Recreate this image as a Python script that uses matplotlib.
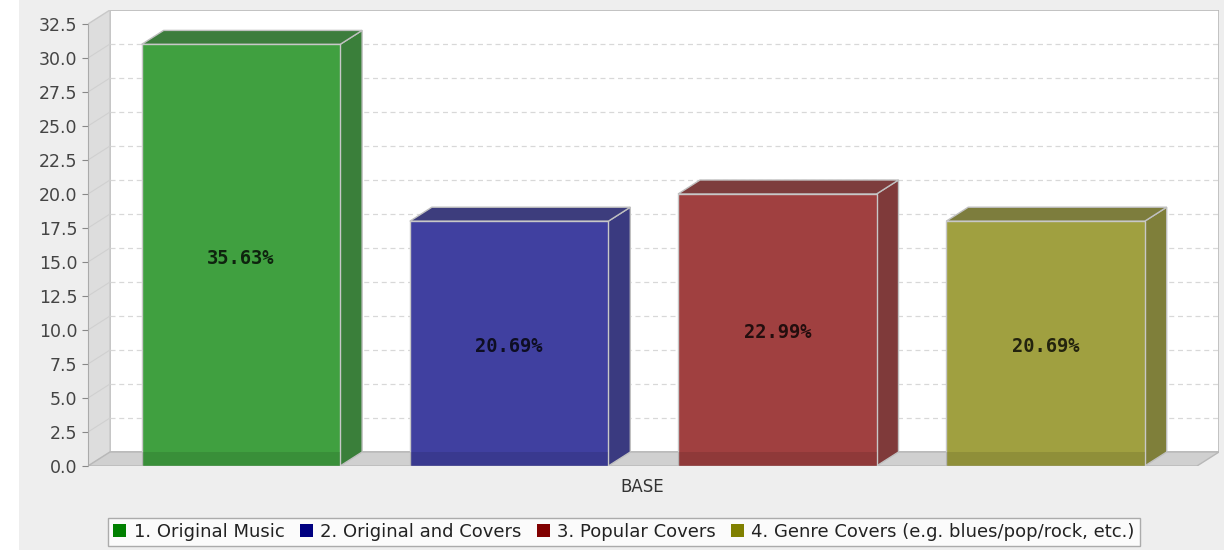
import matplotlib
matplotlib.use("Agg")
import matplotlib.pyplot as plt
from matplotlib.patches import Rectangle, Polygon

# dados
categorias = ["1. Original Music", "2. Original and Covers", "3. Popular Covers",
              "4. Genre Covers (e.g. blues/pop/rock, etc.)"]
contagens = [31, 18, 20, 18]
percentuais = ["35.63%", "20.69%", "22.99%", "20.69%"]
cores_base = ["#008000", "#000080", "#800000", "#808000"]
cores_frente = ["#40A040", "#4040A0", "#A04040", "#A0A040"]
cores_lado = ["#3A7F3A", "#3A3A80", "#7F3A3A", "#7F7F3A"]
cores_topo = ["#3D7D3D", "#3D3D7D", "#7D3D3D", "#7D7D3D"]
ticks_y = [0.0, 2.5, 5.0, 7.5, 10.0, 12.5, 15.0, 17.5, 20.0, 22.5, 25.0, 27.5, 30.0, 32.5]
rotulo_x = "BASE"

W, H = 1224, 550
PX_UNIDADE = 13.6          # pixels por unidade no eixo y
PX_CAT = 268.2             # pixels por categoria
X0_PX, Y0_PX = 88, 466     # origem do eixo (pixels)
TOPO_PX, DIR_PX = 10, 1219

DX = 22 / PX_CAT           # profundidade 3D
DY = 14 / PX_UNIDADE
XMIN = -0.57
XMAX_FRENTE = XMIN + (1197 - X0_PX) / PX_CAT
YMAX = 32.5
LARG = 0.74

fig = plt.figure(figsize=(W / 100, H / 100), dpi=100, facecolor="white")
fig.patches.append(Rectangle((19 / W, 0), 1 - 19 / W, 1, transform=fig.transFigure,
                             facecolor="#EEEEEE", edgecolor="none", zorder=-10))

ax = fig.add_axes([X0_PX / W, (H - Y0_PX) / H, (DIR_PX - X0_PX) / W, (Y0_PX - TOPO_PX) / H])
ax.set_xlim(XMIN, XMIN + (DIR_PX - X0_PX) / PX_CAT)
ax.set_ylim(0, (Y0_PX - TOPO_PX) / PX_UNIDADE)
ax.patch.set_alpha(0)

# parede do fundo
ax.add_patch(Rectangle((XMIN + DX, DY), XMAX_FRENTE - XMIN, YMAX, facecolor="white",
                       edgecolor="#B8B8B8", linewidth=1.2, zorder=0))
# parede esquerda
ax.add_patch(Polygon([(XMIN, 0), (XMIN + DX, DY), (XMIN + DX, YMAX + DY), (XMIN, YMAX)],
                     closed=True, facecolor="#DDDDDD", edgecolor="#C8C8C8", linewidth=1, zorder=0))
# chao
ax.add_patch(Polygon([(XMIN, 0), (XMAX_FRENTE, 0), (XMAX_FRENTE + DX, DY), (XMIN + DX, DY)],
                     closed=True, facecolor="#D0D0D0", edgecolor="#B8B8B8", linewidth=1, zorder=0))

# grade tracejada na parede do fundo
for t in ticks_y[1:-1]:
    ax.plot([XMIN + DX, XMAX_FRENTE + DX], [t + DY, t + DY], color="#D8D8D8",
            linestyle=(0, (4, 3)), linewidth=0.9, zorder=1)
    ax.plot([XMIN, XMIN + DX], [t, t + DY], color="#D0D0D0", linewidth=0.8, zorder=1)

# barras 3D
for i, v in enumerate(contagens):
    x0 = i - LARG / 2
    x1 = i + LARG / 2
    ax.add_patch(Polygon([(x1, 0), (x1 + DX, DY), (x1 + DX, v + DY), (x1, v)], closed=True,
                         facecolor=cores_lado[i], edgecolor="#C0C0C0", linewidth=1, zorder=3))
    ax.add_patch(Polygon([(x0, v), (x1, v), (x1 + DX, v + DY), (x0 + DX, v + DY)], closed=True,
                         facecolor=cores_topo[i], edgecolor="#C0C0C0", linewidth=1, zorder=3))
    ax.add_patch(Rectangle((x0, 0), LARG, v, facecolor=cores_frente[i],
                           edgecolor="#C8C8C8", linewidth=1, zorder=4))
    # faixa mais escura onde a barra cobre o chao
    ax.add_patch(Rectangle((x0, 0), LARG, DY, facecolor="black", alpha=0.1,
                           edgecolor="none", zorder=4))
    ax.annotate(percentuais[i], (i, v / 2), xytext=(0, -3), textcoords="offset pixels",
                ha="center", va="center", fontsize=13.5, family="DejaVu Sans Mono",
                fontweight="bold", color="black", alpha=0.78, zorder=5)

for s in ["top", "right", "bottom"]:
    ax.spines[s].set_visible(False)
ax.spines["left"].set_bounds(0, YMAX)
ax.spines["left"].set_color("#AAAAAA")
ax.set_yticks(ticks_y)
ax.set_yticklabels([f"{t:.1f}" for t in ticks_y])
ax.tick_params(axis="y", colors="#888888", labelcolor="#444444", labelsize=12.5, length=4)
ax.set_xticks([])
ax.text((XMIN + XMAX_FRENTE) / 2, -1.55, rotulo_x, ha="center", va="center",
        fontsize=12, color="#333333")

handles = [Rectangle((0, 0), 1, 1, facecolor=c, edgecolor="none") for c in cores_base]
leg = fig.legend(handles, categorias, loc="center", bbox_to_anchor=(624 / W, 1 - 532 / H),
                 ncol=4, fontsize=13, frameon=True, fancybox=False, handlelength=0.72,
                 handleheight=0.72, handletextpad=0.4, columnspacing=0.85, borderpad=0.3,
                 borderaxespad=0)
leg.get_frame().set_edgecolor("#999999")
leg.get_frame().set_linewidth(1)
for t in leg.get_texts():
    t.set_color("#222222")

fig.savefig("out.png", dpi=100, facecolor=fig.get_facecolor())
